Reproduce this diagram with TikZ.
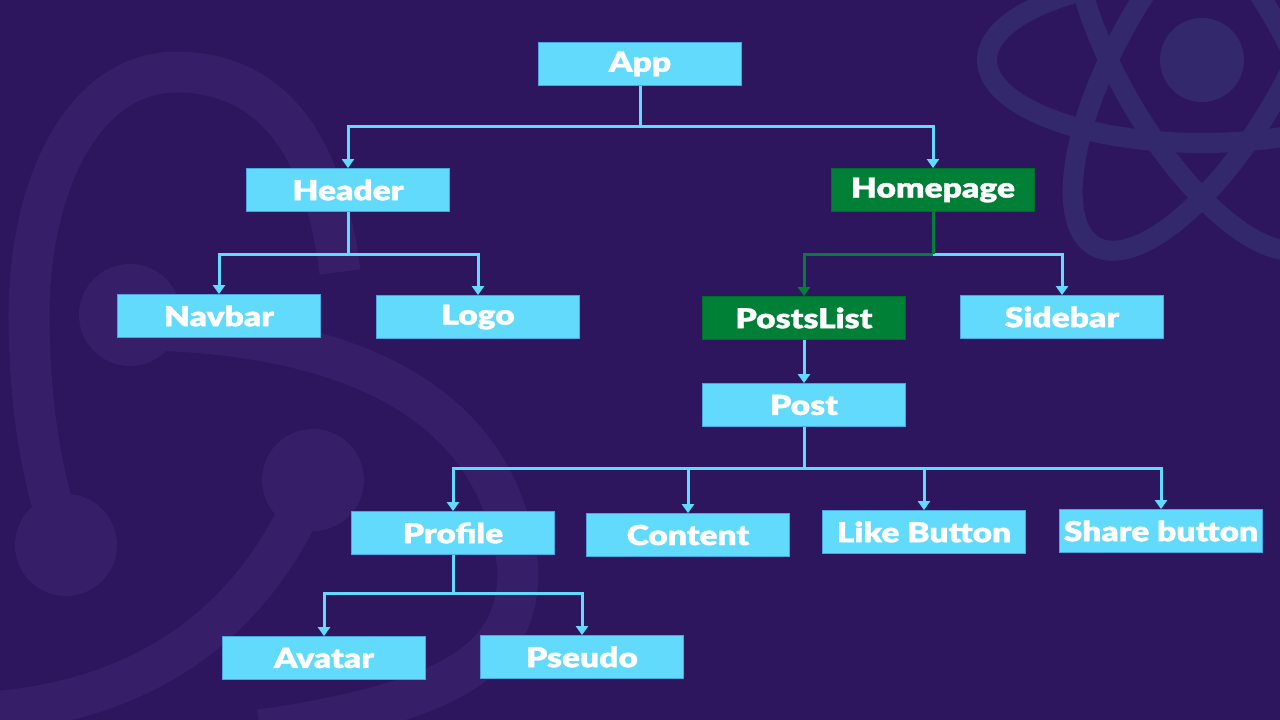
\documentclass[tikz,border=0pt]{standalone}
\usepackage{fontspec}
\newfontfamily\boxfont{Lato Black}[FakeStretch=1.22,FakeBold=1.2]
\usetikzlibrary{arrows.meta}
\definecolor{bg}{HTML}{2D165E}
\definecolor{deco}{HTML}{371E68}
\definecolor{atomc}{HTML}{33286C}
\definecolor{rcyan}{HTML}{61DAFB}
\definecolor{redge}{HTML}{4AA6E0}
\definecolor{rgreen}{HTML}{007F36}
\definecolor{gedge}{HTML}{006B2C}
\begin{document}
\begin{tikzpicture}[x=1pt,y=-1pt,
  box/.style={rectangle, fill=rcyan, draw=redge, line width=0.8pt, minimum width=203pt, minimum height=43pt, inner sep=0pt, text=white, font=\boxfont\fontsize{27.5}{27.5}\selectfont},
  gbox/.style={box, fill=rgreen, draw=gedge},
  conn/.style={draw=rcyan, line width=3pt, -{Triangle[width=12pt,length=9pt]}},
  gconn/.style={conn, draw=rgreen},
  plain/.style={draw=rcyan, line width=3pt},
  decoband/.style={draw=deco, line width=41pt},
  orbit/.style={draw=atomc, line width=20pt}
]
\useasboundingbox (0,0) rectangle (1280,720);
\fill[bg] (0,0) rectangle (1280,720);
% background redux-like decoration
\begin{scope}
\clip (0,0) rectangle (1280,720);
\draw[decoband] (340,272) .. controls (322,130) and (262,72) .. (175,72) .. controls (80,74) and (28,190) .. (29,320) .. controls (30,420) and (45,490) .. (66,545);
\draw[decoband] (150,330) .. controls (330,335) and (500,390) .. (518,570) .. controls (518,650) and (470,700) .. (260,730);
\draw[decoband] (305,500) .. controls (250,620) and (150,700) .. (-10,712);
\fill[deco] (130,315) circle[radius=51pt];
\fill[deco] (66,545) circle[radius=51pt];
\fill[deco] (313,480) circle[radius=51pt];
% react atom
\draw[orbit] (1202,60) ellipse[x radius=215pt, y radius=83pt];
\draw[orbit, rotate around={60:(1202,60)}] (1202,60) ellipse[x radius=215pt, y radius=83pt];
\draw[orbit, rotate around={-60:(1202,60)}] (1202,60) ellipse[x radius=215pt, y radius=83pt];
\fill[atomc] (1202,60) circle[radius=42pt];
\end{scope}
% nodes
\node[box] (app) at (640,64) {App};
\node[box] (header) at (348,190) {Header};
\node[gbox] (homepage) at (933,190) {Homepage};
\node[box] (navbar) at (219,316) {Navbar};
\node[box] (logo) at (478,317) {Logo};
\node[gbox] (postslist) at (804,318) {PostsList};
\node[box] (sidebar) at (1062,317) {Sidebar};
\node[box] (post) at (804,405) {Post};
\node[box] (profile) at (453,533) {Profile};
\node[box] (content) at (688,535) {Content};
\node[box] (like) at (924,532) {Like Button};
\node[box] (share) at (1161,531) {Share button};
\node[box] (avatar) at (324,658) {Avatar};
\node[box] (pseudo) at (582,657) {Pseudo};
% junctions
\coordinate (appj) at (640,126);
\coordinate (headj) at (348,254);
\coordinate (homej) at (933,254);
\coordinate (postj) at (804,468);
\coordinate (profj) at (453,593);
% connectors
\draw[plain] (app.south) -- (appj);
\draw[conn] (appj) -| (header.north);
\draw[conn] (appj) -| (homepage.north);
\draw[plain] (header.south) -- (headj);
\draw[conn] (headj) -| (navbar.north);
\draw[conn] (headj) -| (logo.north);
\draw[conn] (homej) -| (sidebar.north);
\draw[draw=rgreen, line width=3pt] (homepage.south) -- (homej);
\draw[gconn] (homej) -| (postslist.north);
\draw[conn] (postslist.south) -- (post.north);
\draw[plain] (post.south) -- (postj);
\draw[conn] (postj) -| (profile.north);
\draw[conn] (postj) -| (content.north);
\draw[conn] (postj) -| (like.north);
\draw[conn] (postj) -| (share.north);
\draw[plain] (profile.south) -- (profj);
\draw[conn] (profj) -| (avatar.north);
\draw[conn] (profj) -| (pseudo.north);
\end{tikzpicture}
\end{document}
